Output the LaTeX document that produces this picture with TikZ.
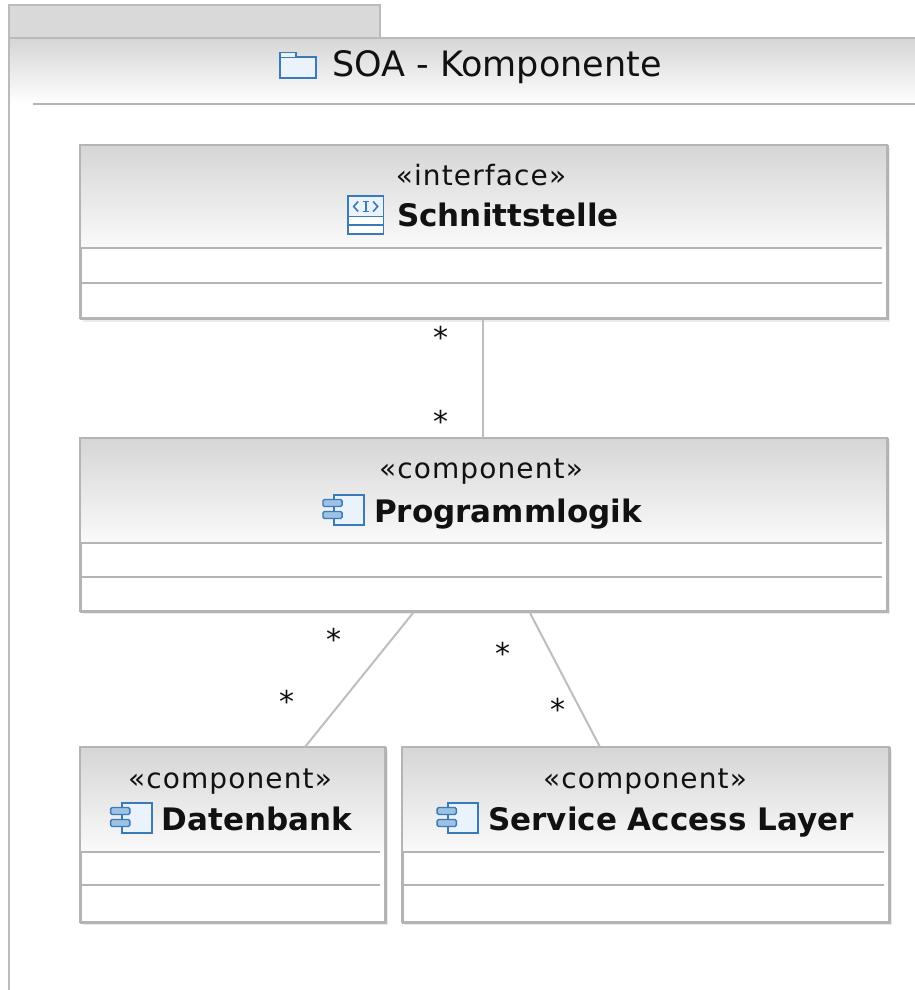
\documentclass[tikz,border=0pt]{standalone}
\usepackage{fontspec}
\setmainfont{DejaVu Sans}
\usetikzlibrary{calc}
\definecolor{bordergray}{HTML}{B4B4B4}
\definecolor{framegray}{HTML}{BBBBBB}
\definecolor{tabgray}{HTML}{D9D9D9}
\definecolor{hdtop}{HTML}{D6D6D6}
\definecolor{hdbot}{HTML}{FAFAFA}
\definecolor{shadowgray}{HTML}{EBEBEB}
\definecolor{linegray}{HTML}{BEBEBE}
\definecolor{iconblue}{HTML}{3A7AB8}
\definecolor{iconfill}{HTML}{EAF3FC}
\definecolor{tabfill}{HTML}{9DC2E4}
\definecolor{txt}{HTML}{111111}
\newcommand\compicon{\tikz[x=1pt,y=1pt,baseline=4pt]{%
  \draw[iconblue,line width=1.8pt,fill=iconfill] (12,1) rectangle (42,31);
  \draw[iconblue,line width=1.4pt,fill=tabfill,rounded corners=1.5pt] (0.8,19.5) rectangle (20,26.5);
  \draw[iconblue,line width=1.4pt,fill=tabfill,rounded corners=1.5pt] (0.8,7.5) rectangle (20,14.5);
}}
\newcommand\ifaceicon{\tikz[x=1pt,y=1pt,baseline=9pt]{%
  \draw[iconblue,line width=1.6pt,fill=white] (0.8,0.8) rectangle (36.2,39.2);
  \fill[iconfill] (1.6,19) rectangle (35.4,38.4);
  \draw[iconblue,line width=1.4pt] (0.8,18.5) -- (36.2,18.5);
  \draw[iconblue,line width=1.4pt] (0.8,10) -- (36.2,10);
  \draw[iconblue,line width=1.6pt] (11,33.5) -- (6.5,28.5) -- (11,23.5);
  \draw[iconblue,line width=1.6pt] (26,33.5) -- (30.5,28.5) -- (26,23.5);
  \draw[iconblue,line width=1.8pt] (15.5,33.5) -- (21.5,33.5) (18.5,33.5) -- (18.5,23.5) (15.5,23.5) -- (21.5,23.5);
}}
\tikzset{
  boxbody/.style={draw=bordergray,line width=2pt,fill=white,inner sep=0pt,anchor=north west},
  hdr/.style={top color=hdtop,bottom color=hdbot},
  sepline/.style={draw=bordergray,line width=2pt},
  conn/.style={draw=linegray,line width=2pt},
  stereo/.style={anchor=base,inner sep=0pt,text=txt,font=\fontsize{28}{30}\selectfont\addfontfeature{LetterSpace=4}},
  uname/.style={anchor=base,inner sep=0pt,text=txt,font=\bfseries\fontsize{31}{33}\selectfont},
  mult/.style={anchor=base,inner sep=0pt,text=txt,font=\fontsize{30}{30}\selectfont}
}
\begin{document}
\begin{tikzpicture}[x=1pt,y=-1pt]
\useasboundingbox[fill=white] (0,0) rectangle (915,990);
% package frame
\fill[tabgray] (9,5) rectangle (380,38);
\draw[framegray,line width=2pt] (9,990) -- (9,5) -- (380,5) -- (380,38);
\shade[top color=hdtop,bottom color=white] (10,39) rectangle (915,104);
\draw[framegray,line width=2pt] (9,38) -- (915,38);
\draw[bordergray,line width=2.5pt] (33,104) -- (915,104);
% title
\draw[iconblue,line width=1.6pt,fill=iconfill] (280,57) rectangle (316,78);
\draw[iconblue,line width=1.6pt,fill=iconfill] (280,57) -- (280,52.5) -- (296,52.5) -- (296,57);
\node[anchor=base west,inner sep=0pt,text=txt,font=\fontsize{35}{36}\selectfont] (title) at (332,77) {SOA - Komponente};

% Schnittstelle
\fill[shadowgray] (83,148) rectangle (890,322);
\node[boxbody,minimum width=807pt,minimum height=173pt] (schn) at (80,145) {};
\shade[hdr] (81,146) rectangle (886,248);
\draw[sepline] (80,248) -- (882,248);
\draw[sepline] (80,283) -- (882,283);
\draw[bordergray,line width=2pt] (80,145) rectangle (887,318);
\node[stereo] (schnst) at (481,185) {«interface»};
\node[uname] (schnnm) at (483,226) {\ifaceicon\hspace{13pt}Schnittstelle};

% Programmlogik
\fill[shadowgray] (83,441) rectangle (890,614);
\node[boxbody,minimum width=807pt,minimum height=173pt] (prog) at (80,438) {};
\shade[hdr] (81,439) rectangle (886,543);
\draw[sepline] (80,543) -- (882,543);
\draw[sepline] (80,577) -- (882,577);
\draw[bordergray,line width=2pt] (80,438) rectangle (887,611);
\node[stereo] (progst) at (481,478) {«component»};
\node[uname] (prognm) at (482,522) {\compicon\hspace{9pt}Programmlogik};

% Datenbank
\fill[shadowgray] (83,750) rectangle (388,925);
\node[boxbody,minimum width=305pt,minimum height=175pt] (db) at (80,747) {};
\shade[hdr] (81,748) rectangle (384,852);
\draw[sepline] (80,852) -- (380,852);
\draw[sepline] (80,885) -- (380,885);
\draw[bordergray,line width=2pt] (80,747) rectangle (385,922);
\node[stereo] (dbst) at (230,788) {«component»};
\node[uname] (dbnm) at (231,830) {\compicon\hspace{9pt}Datenbank};

% Service Access Layer
\fill[shadowgray] (405,750) rectangle (892,925);
\node[boxbody,minimum width=487pt,minimum height=175pt] (sal) at (402,747) {};
\shade[hdr] (403,748) rectangle (888,852);
\draw[sepline] (402,852) -- (884,852);
\draw[sepline] (402,885) -- (884,885);
\draw[bordergray,line width=2pt] (402,747) rectangle (889,922);
\node[stereo] (salst) at (645,788) {«component»};
\node[uname] (salnm) at (645,830) {\compicon\hspace{9pt}Service Access Layer};

% connectors
\draw[conn] ($(schn.south west)+(403,0)$) -- ($(prog.north west)+(403,0)$);
\draw[conn] ($(prog.south west)+(333,0)$) -- ($(db.north west)+(225,0)$);
\draw[conn] ($(prog.south west)+(450,0)$) -- ($(sal.north west)+(198,0)$);

% multiplicities
\node[mult] (m1) at (441,348) {*};
\node[mult] (m2) at (441,432) {*};
\node[mult] (m3) at (334,650) {*};
\node[mult] (m4) at (287,712) {*};
\node[mult] (m5) at (503,664) {*};
\node[mult] (m6) at (558,720) {*};
\end{tikzpicture}
\end{document}
